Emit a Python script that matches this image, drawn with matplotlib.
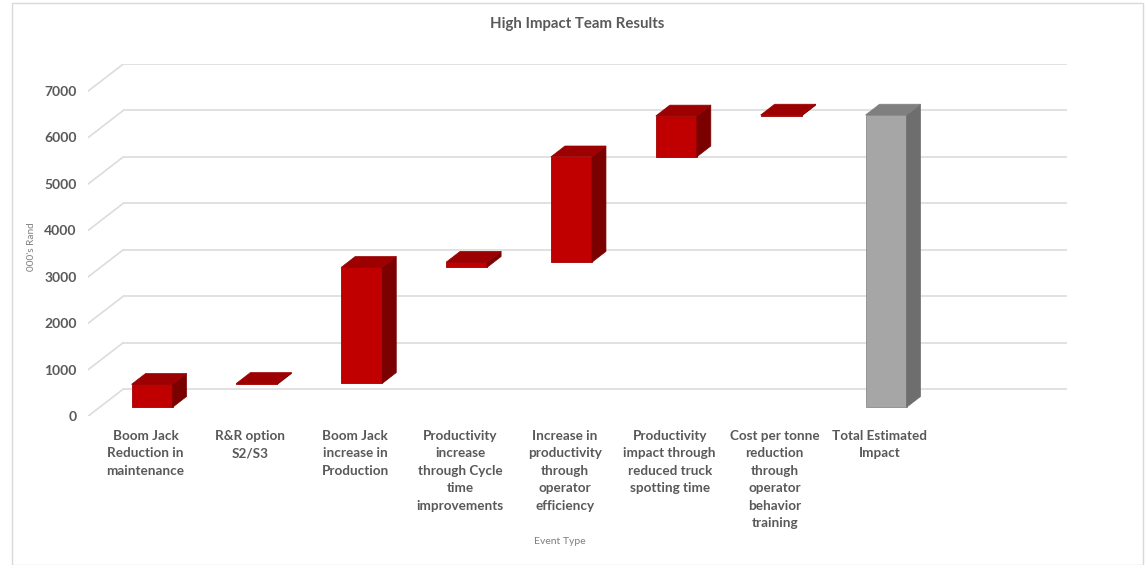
import matplotlib
matplotlib.use("Agg")
import matplotlib.pyplot as plt
from matplotlib.patches import Polygon, Rectangle
import numpy as np

# ---- data ----
categories = [
    "Boom Jack\nReduction in\nmaintenance",
    "R&R option\nS2/S3",
    "Boom Jack\nincrease in\nProduction",
    "Productivity\nincrease\nthrough Cycle\ntime\nimprovements",
    "Increase in\nproductivity\nthrough\noperator\nefficiency",
    "Productivity\nimpact through\nreduced truck\nspotting time",
    "Cost per tonne\nreduction\nthrough\noperator\nbehavior\ntraining",
    "Total Estimated\nImpact",
]
increments = [495, 20, 2500, 110, 2270, 880, 20]
y_ticks = [0, 1000, 2000, 3000, 4000, 5000, 6000, 7000]
title = "High Impact Team Results"
x_title = "Event Type"
y_title = "000's Rand"

# ---- derived waterfall geometry ----
inc = np.array(increments, dtype=float)
bottoms = np.concatenate([np.cumsum(inc) - inc, [0.0]])
heights = np.concatenate([inc, [inc.sum()]])
n_slots = 9  # plot area holds one extra empty category

# ---- style ----
W, H, DPI = 1145, 565, 100
fig = plt.figure(figsize=(W / DPI, H / DPI), dpi=DPI)
fig.patch.set_facecolor("white")

# chart border
fig.patches.append(Rectangle((12 / W, 0), (1143 - 12) / W, (H - 3) / H,
                             transform=fig.transFigure, fill=False,
                             edgecolor="#D9D9D9", linewidth=1.0))

ax_l, ax_r, ax_b, ax_t = 88.3, 1067.0, 416.0, 64.0
ax = fig.add_axes([ax_l / W, (H - ax_b) / H, (ax_r - ax_l) / W, (ax_b - ax_t) / H])

DX, DY = 0.334, 581.0          # wall depth (oblique)
bdx, bdy = 0.108, 187.0        # bar front offset from front plane
ddx, ddy = 0.1335, 233.0       # bar depth
bw = 0.391                     # bar width

ax.set_xlim(-0.5, n_slots - 0.5 + DX)
ax.set_ylim(0, max(y_ticks) + DY)
for s in ax.spines.values():
    s.set_visible(False)

grid_c = "#DCDCDC"
x0, x1 = -0.5, n_slots - 0.5
for v in y_ticks:
    ax.plot([x0 + DX, x1 + DX], [v + DY, v + DY], color=grid_c, lw=1.2, zorder=1,
            solid_capstyle="butt")
    ax.plot([x0, x0 + DX], [v, v + DY], color=grid_c, lw=1.2, zorder=1)

xs = np.arange(len(categories)) + bdx
front_cols = ["#C00000"] * 7 + ["#A6A6A6"]
side_cols = ["#7B0000"] * 7 + ["#6E6E6E"]
top_cols = ["#9C0000"] * 7 + ["#7F7F7F"]
edge_cols = ["#A00000"] * 7 + ["#8C8C8C"]

ax.bar(xs, heights, bottom=bottoms + bdy, width=bw, color=front_cols,
       edgecolor=edge_cols, linewidth=0.6, zorder=3)
for i, (xc, b, h) in enumerate(zip(xs, bottoms + bdy, heights)):
    xl, xr = xc - bw / 2, xc + bw / 2
    top = b + h
    side = Polygon([(xr, b), (xr + ddx, b + ddy), (xr + ddx, top + ddy), (xr, top)],
                   closed=True, facecolor=side_cols[i], edgecolor=side_cols[i],
                   linewidth=0.5, zorder=3)
    topf = Polygon([(xl, top), (xl + ddx, top + ddy), (xr + ddx, top + ddy), (xr, top)],
                   closed=True, facecolor=top_cols[i], edgecolor=top_cols[i],
                   linewidth=0.5, zorder=3)
    ax.add_patch(side)
    ax.add_patch(topf)

txt_c = "#595959"
font = ["Lato", "DejaVu Sans"]
ax.set_yticks(y_ticks)
ax.set_yticklabels([str(v) for v in y_ticks], fontsize=10, color=txt_c,
                   fontweight="bold", family=font)
ax.tick_params(axis="y", length=0, pad=8.4)

ax.set_xticks(np.arange(len(categories)) + 0.045)
ax.set_xticklabels(categories, fontsize=9.7, color=txt_c, fontweight="bold",
                   family=font, linespacing=1.55, va="top")
ax.tick_params(axis="x", length=0, pad=9.8)

fig.text(577.5 / W, 1 - 24 / H, title, ha="center", va="center", fontsize=10.8,
         color=txt_c, fontweight="bold", family=font)
fig.text(560 / W, 1 - 542 / H, x_title, ha="center", va="center", fontsize=7.5,
         color="#7F7F7F", family=font)
fig.text(31.5 / W, 1 - 246.5 / H, y_title, ha="center", va="center", fontsize=7.2,
         color="#7F7F7F", family=font, rotation=90)

fig.savefig("out.png", dpi=DPI, facecolor="white")
